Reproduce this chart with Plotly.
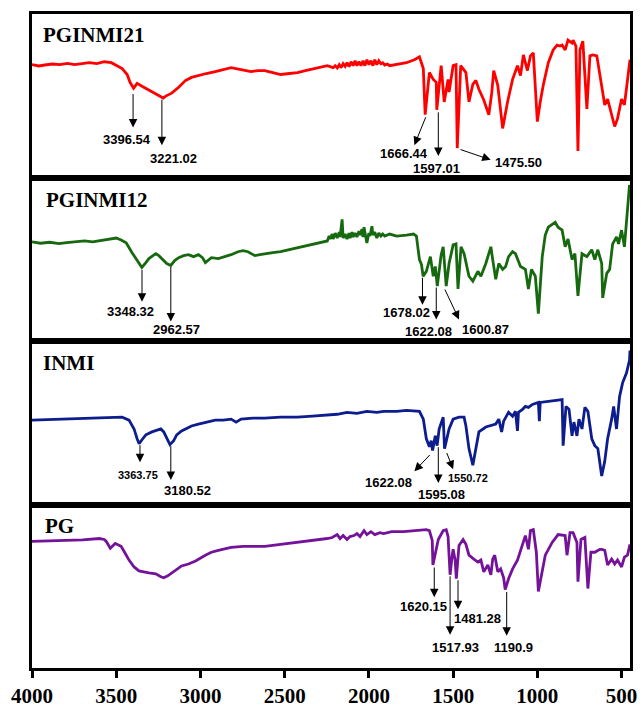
import plotly.graph_objects as go
from plotly.subplots import make_subplots

# FTIR spectra: (wavenumber cm-1, transmittance a.u.)
pginmi21 = [
    (4000, 69.0), (3960, 68.2), (3924, 68.8), (3880, 69.4), (3835, 69.0), (3790, 69.8), (3747, 69.0),
    (3700, 69.8), (3659, 70.2), (3615, 69.6), (3571, 70.8), (3529, 70.2),
    (3494, 68.4), (3465, 66.6), (3435, 63.0), (3418, 58.2), (3397, 54.6), (3376, 57.6), (3347, 55.8),
    (3306, 53.4), (3265, 51.0), (3221, 48.6), (3206, 49.8), (3171, 51.6), (3129, 55.2), (3088, 59.4),
    (3053, 61.2), (3012, 62.4), (2965, 63.6), (2912, 64.8), (2865, 66.0), (2818, 67.2), (2759, 66.0),
    (2700, 64.8), (2659, 65.4), (2618, 65.4), (2571, 64.2), (2524, 63.0), (2471, 63.6), (2424, 64.2),
    (2377, 65.4), (2324, 66.6), (2282, 67.8), (2247, 68.4), (2212, 67.2), (2200, 68.4), (2188, 67.0),
    (2176, 69.0), (2165, 67.2), (2153, 69.6), (2141, 68.0), (2130, 70.2), (2118, 67.8), (2106, 70.8),
    (2094, 68.4), (2082, 71.4), (2071, 68.4), (2059, 70.8), (2047, 68.4), (2035, 71.4), (2024, 68.4),
    (2012, 72.0), (2000, 69.0), (1988, 71.4), (1976, 68.4), (1965, 72.0), (1953, 69.0), (1941, 71.4),
    (1929, 69.6), (1918, 70.2), (1906, 68.8), (1890, 69.4), (1877, 68.4), (1835, 69.0),
    (1777, 70.2), (1730, 72.0), (1700, 73.8), (1677, 66.6), (1666, 38.4), (1641, 64.2), (1618, 60.0),
    (1600, 58.2), (1597, 41.4), (1571, 68.4), (1553, 46.2), (1530, 60.0), (1524, 52.2), (1500, 68.4),
    (1483, 69.0), (1475.5, 18.0), (1455, 68.4), (1424, 64.2), (1406, 46.2), (1383, 57.0), (1365, 59.4),
    (1347, 54.0), (1318, 47.4), (1288, 38.4), (1271, 51.6), (1259, 65.4), (1235, 56.4), (1206, 30.0),
    (1177, 46.2), (1147, 60.0), (1118, 68.4), (1100, 62.4), (1083, 75.0), (1059, 65.4), (1041, 74.4),
    (1024, 76.2), (1000, 34.2), (983, 46.2), (965, 56.4), (935, 70.2), (906, 78.0), (883, 81.0),
    (865, 80.4), (853, 81.0), (835, 78.0), (818, 84.0), (794, 82.2), (788, 84.0), (771, 80.4),
    (759, 16.2), (747, 78.0), (730, 83.4), (706, 42.0), (688, 74.4), (671, 75.0), (647, 74.4),
    (618, 54.0), (600, 44.4), (583, 48.0), (559, 38.4), (541, 31.2), (524, 36.0), (500, 48.0),
    (483, 44.4), (465, 60.0), (450, 72.0),
]

pginmi12 = [
    (4000, 60.6), (3950, 59.8), (3894, 60.4), (3840, 59.6), (3794, 60.2), (3740, 60.8), (3688, 61.2),
    (3640, 60.6), (3600, 61.2), (3541, 62.4), (3500, 63.0),
    (3471, 61.8), (3441, 60.0), (3406, 54.0), (3382, 50.4), (3365, 47.4), (3348, 45.0), (3324, 48.0),
    (3306, 50.4), (3282, 52.2), (3265, 53.4), (3247, 52.2), (3229, 50.4), (3200, 47.4), (3176, 46.2),
    (3153, 49.2), (3129, 51.0), (3100, 52.2), (3071, 52.8), (3041, 51.6), (3012, 52.8), (2988, 51.0),
    (2971, 48.0), (2953, 49.8), (2935, 51.0), (2894, 50.4), (2853, 51.6), (2818, 52.8), (2777, 54.6),
    (2747, 55.2), (2718, 54.6), (2694, 53.4), (2677, 52.2), (2647, 52.8), (2618, 53.4), (2571, 54.0),
    (2524, 54.6), (2471, 55.8), (2424, 57.0), (2377, 58.2), (2324, 59.4), (2277, 60.6), (2247, 61.2),
    (2236, 64.2), (2230, 62.4), (2218, 65.4), (2212, 62.4), (2200, 66.0), (2188, 63.0), (2176, 66.6),
    (2171, 63.6), (2159, 74.4), (2153, 63.0), (2141, 65.4), (2130, 62.4), (2118, 66.0), (2112, 63.0),
    (2100, 66.6), (2094, 63.6), (2082, 66.0), (2071, 63.6), (2059, 67.2), (2053, 64.8), (2041, 68.4),
    (2035, 63.6), (2029, 69.6), (2018, 64.2), (2012, 60.0), (2000, 66.0), (1994, 64.2), (1982, 70.2),
    (1976, 64.8), (1965, 66.6), (1953, 63.0), (1941, 66.0), (1929, 64.2), (1918, 65.4), (1906, 64.2),
    (1877, 65.4), (1835, 64.2), (1777, 64.8), (1735, 65.4), (1718, 64.2), (1700, 49.8), (1688, 46.8),
    (1678, 39.6), (1659, 42.6), (1635, 51.6), (1618, 39.6), (1606, 45.6), (1594, 33.6), (1571, 52.8),
    (1559, 57.6), (1541, 33.6), (1524, 47.4), (1500, 58.8), (1483, 59.4), (1471, 31.8), (1453, 57.6),
    (1435, 53.4), (1406, 39.6), (1383, 36.6), (1353, 42.6), (1335, 39.6), (1306, 47.4), (1276, 57.6),
    (1265, 49.8), (1247, 37.8), (1229, 47.4), (1206, 43.8), (1188, 45.6), (1171, 51.6), (1147, 54.6),
    (1130, 53.4), (1100, 45.6), (1071, 43.8), (1053, 31.8), (1035, 43.8), (1012, 39.6), (994, 16.8),
    (971, 51.6), (953, 64.8), (935, 69.6), (912, 71.4), (894, 72.6), (877, 69.6), (853, 67.8),
    (835, 57.6), (818, 62.4), (794, 49.8), (777, 53.4), (759, 27.6), (735, 53.4), (706, 51.6),
    (677, 55.8), (659, 49.8), (641, 55.8), (618, 47.4), (612, 26.4), (588, 41.4), (571, 43.8),
    (553, 59.4), (530, 63.6), (518, 59.4), (500, 67.8), (483, 57.6), (465, 79.8), (453, 95.4),
    (450, 93.6),
]

inmi = [
    (4000, 51.6), (3900, 51.9), (3794, 52.2), (3700, 52.5), (3600, 52.8), (3512, 53.4), (3465, 53.4),
    (3424, 51.6), (3394, 46.2),
    (3376, 40.2), (3364, 37.2), (3347, 39.6), (3324, 42.6), (3288, 44.4), (3259, 45.6), (3235, 46.2),
    (3218, 44.4), (3200, 40.8), (3181, 36.6), (3159, 39.0), (3141, 42.6), (3112, 45.0), (3088, 46.2),
    (3053, 48.0), (3012, 49.2), (2965, 50.4), (2912, 51.6), (2865, 51.6), (2818, 52.2), (2788, 50.4),
    (2759, 52.2), (2688, 52.8), (2618, 52.8), (2524, 53.4), (2424, 53.4), (2335, 54.0), (2247, 54.6),
    (2188, 55.2), (2130, 56.4), (2071, 55.8), (2012, 57.0), (1953, 56.4), (1912, 57.0), (1835, 57.0),
    (1777, 57.6), (1718, 57.0), (1700, 57.0), (1677, 52.2), (1659, 40.2), (1641, 35.4), (1630, 39.0),
    (1622, 33.0), (1606, 42.0), (1595, 36.0), (1583, 46.2), (1559, 53.4), (1551, 34.2), (1524, 46.2),
    (1500, 52.2), (1465, 53.4), (1435, 53.4), (1424, 48.0), (1406, 34.2), (1383, 24.0), (1365, 34.2),
    (1347, 44.4), (1306, 47.4), (1247, 49.2), (1229, 52.2), (1212, 44.4), (1200, 51.0), (1171, 56.4),
    (1147, 54.0), (1130, 57.0), (1118, 45.0), (1112, 56.4), (1088, 58.2), (1071, 60.0), (1053, 59.4),
    (1029, 61.2), (994, 62.4), (988, 51.0), (983, 62.4), (935, 63.0), (894, 63.6), (853, 64.2),
    (847, 36.0), (830, 60.0), (812, 58.2), (794, 42.0), (783, 50.4), (765, 42.0), (753, 52.2),
    (735, 46.2), (718, 59.4), (700, 57.0), (677, 40.2), (659, 36.0), (641, 34.2), (618, 17.4),
    (600, 26.4), (583, 40.2), (559, 52.2), (547, 60.0), (530, 46.2), (512, 66.0), (494, 74.4),
    (471, 80.4), (453, 88.2), (450, 94.2),
]

pg = [
    (4000, 77.4), (3900, 77.6), (3794, 78.0), (3700, 78.4), (3600, 79.2), (3571, 78.6), (3559, 77.4),
    (3535, 73.2), (3506, 76.2),
    (3471, 74.4), (3447, 70.2), (3424, 66.0), (3394, 61.8), (3365, 59.4), (3306, 58.2), (3265, 57.6),
    (3235, 55.8), (3218, 55.2), (3194, 56.4), (3171, 58.2), (3141, 60.0), (3112, 62.4), (3071, 63.6),
    (3029, 65.4), (2971, 69.0), (2935, 70.8), (2894, 72.0), (2818, 73.8), (2747, 74.4), (2700, 74.4),
    (2618, 74.4), (2524, 75.6), (2424, 76.8), (2324, 78.0), (2247, 79.2), (2218, 79.8), (2188, 81.6),
    (2171, 79.2), (2153, 81.0), (2130, 78.6), (2112, 80.4), (2088, 81.0), (2071, 82.2), (2053, 80.4),
    (2029, 84.0), (2012, 81.6), (1988, 83.4), (1965, 81.6), (1935, 82.8), (1912, 82.2), (1865, 83.4),
    (1794, 83.4), (1718, 84.0), (1659, 84.6), (1641, 84.0), (1624, 78.0), (1620, 63.0), (1600, 73.2),
    (1588, 78.6), (1559, 84.0), (1541, 84.6), (1530, 80.4), (1518, 57.0), (1506, 68.4), (1500, 72.6),
    (1488, 66.0), (1481, 54.6), (1465, 75.0), (1441, 78.6), (1424, 75.6), (1406, 69.0), (1377, 66.6),
    (1353, 64.8), (1335, 66.0), (1318, 58.8), (1294, 63.0), (1276, 57.0), (1265, 66.6), (1253, 69.0),
    (1235, 58.8), (1218, 60.6), (1200, 55.2), (1191, 48.0), (1171, 54.6), (1147, 60.6), (1118, 66.0),
    (1088, 75.0), (1071, 81.0), (1053, 72.6), (1041, 84.0), (1024, 84.6), (1006, 70.8), (994, 46.8),
    (971, 58.8), (953, 69.0), (912, 76.8), (877, 81.6), (835, 81.0), (824, 69.0), (806, 82.8),
    (788, 82.8), (765, 76.8), (759, 52.8), (741, 78.6), (718, 79.8), (700, 48.6), (682, 70.8),
    (659, 70.8), (629, 72.6), (618, 72.6), (600, 72.0), (583, 63.0), (559, 66.6), (541, 63.6),
    (524, 66.0), (500, 61.8), (483, 67.8), (465, 69.0), (450, 75.6),
]

sample_names = ["PGINMI21", "PGINMI12", "INMI", "PG"]
spectra = [pginmi21, pginmi12, inmi, pg]
line_colors = ["#ff0000", "#17690f", "#0d1d8e", "#74139a"]

x_ticks = [4000, 3500, 3000, 2500, 2000, 1500, 1000, 500]

# Vertical peak arrows per panel: (text, arrow x, tail y on curve, head y)
peak_arrows = [
    [("3396.54", 3400, 52.0, 30.6), ("3221.02", 3229, 48.6, 19.8)],
    [("3348.32", 3347, 44.4, 24.0), ("2962.57", 3176, 46.2, 12.0),
     ("1678.02", 1682, 39.6, 22.2), ("1622.08", 1600, 33.6, 13.2)],
    [("3363.75", 3359, 37.2, 25.8), ("3180.52", 3176, 36.6, 15.0),
     ("1595.08", 1588, 36.0, 13.2)],
    [("1620.15", 1612, 62.4, 43.2), ("1517.93", 1518, 57.0, 20.4),
     ("1481.28", 1471, 54.6, 36.0), ("1190.9", 1182, 47.4, 19.8)],
]
# Other arrows: (tail x, tail y, head x, head y)
slanted_arrows = [
    [(1659, 37.8, 1730, 19.8), (1588, 40.8, 1588, 13.2), (1465, 17.4, 1277, 10.8)],
    [(1553, 32.4, 1465, 13.2)],
    [(1630, 31.2, 1730, 20.4), (1541, 32.4, 1500, 21.6)],
    [],
]
# Label text positions: (text, x, y, size)
peak_texts = [
    [("3396.54", 3435, 23.4, 13), ("3221.02", 3159, 11.4, 13), ("1666.44", 1794, 14.4, 13),
     ("1597.01", 1600, 5.4, 13), ("1475.50", 1112, 9.0, 13)],
    [("3348.32", 3418, 18.0, 13), ("2962.57", 3141, 7.2, 13), ("1678.02", 1777, 17.4, 13),
     ("1622.08", 1647, 6.0, 13), ("1600.87", 1306, 7.2, 13)],
    [("3363.75", 3371, 18.0, 11), ("3180.52", 3077, 8.4, 13), ("1622.08", 1882, 13.2, 13),
     ("1595.08", 1571, 6.0, 13), ("1550.72", 1412, 16.2, 11)],
    [("1620.15", 1677, 37.8, 13), ("1517.93", 1488, 12.6, 13), ("1481.28", 1353, 30.0, 13),
     ("1190.9", 1141, 12.6, 13)],
]
title_pos = [(3947, 87.0), (3929, 86.4), (3947, 86.4), (3935, 87.0)]

SERIF = "Liberation Serif, Times New Roman, serif"
SANS = "Liberation Sans, Arial, sans-serif"

fig = make_subplots(rows=4, cols=1, shared_xaxes=True, vertical_spacing=0)

for i, (pts, color) in enumerate(zip(spectra, line_colors)):
    fig.add_trace(
        go.Scatter(x=[p[0] for p in pts], y=[p[1] for p in pts], mode="lines",
                   line=dict(color=color, width=2.8), showlegend=False, hoverinfo="skip"),
        row=i + 1, col=1,
    )

for r in range(1, 5):
    fig.update_xaxes(range=[4000, 450], showline=True, mirror=True, linecolor="black",
                     linewidth=2.5, showgrid=False, zeroline=False, ticks="",
                     showticklabels=False, row=r, col=1)
    fig.update_yaxes(range=[0, 100], showline=True, mirror=True, linecolor="black",
                     linewidth=2.5, showgrid=False, zeroline=False, ticks="",
                     showticklabels=False, row=r, col=1)

fig.update_xaxes(ticks="outside", ticklen=7, tickwidth=2.5, tickcolor="black",
                 showticklabels=True, tickvals=x_ticks, ticktext=[str(v) for v in x_ticks],
                 tickfont=dict(family=SERIF, size=21, color="black", weight="bold"),
                 row=4, col=1)

arrow_style = dict(showarrow=True, arrowhead=2, arrowsize=1.7, arrowwidth=1,
                   arrowcolor="black", standoff=0, startstandoff=0, text="")

for r in range(4):
    xr = "x" if r == 0 else f"x{r + 1}"
    yr = "y" if r == 0 else f"y{r + 1}"
    fig.add_annotation(x=title_pos[r][0], y=title_pos[r][1], xref=xr, yref=yr,
                       text=sample_names[r], showarrow=False, xanchor="left", yanchor="middle",
                       font=dict(family=SERIF, size=21, color="black", weight="bold"))
    for _, ax_, y_tail, y_head in peak_arrows[r]:
        fig.add_annotation(x=ax_, y=y_head, ax=ax_, ay=y_tail, xref=xr, yref=yr,
                           axref=xr, ayref=yr, **arrow_style)
    for tx, ty, hx, hy in slanted_arrows[r]:
        fig.add_annotation(x=hx, y=hy, ax=tx, ay=ty, xref=xr, yref=yr,
                           axref=xr, ayref=yr, **arrow_style)
    for text, lx, ly, size in peak_texts[r]:
        fig.add_annotation(x=lx, y=ly, xref=xr, yref=yr, text=text, showarrow=False,
                           xanchor="center", yanchor="middle",
                           font=dict(family=SANS, size=size, color="black", weight="bold"))

fig.update_layout(
    width=644, height=715,
    margin=dict(l=32, r=7, t=14, b=33),
    paper_bgcolor="white", plot_bgcolor="white",
)

fig.write_html("out.html")
